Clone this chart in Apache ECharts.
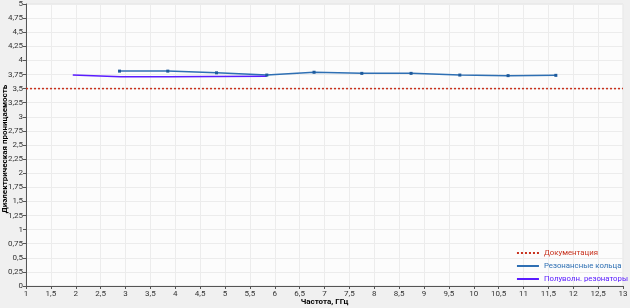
<!DOCTYPE html>
<html><head><meta charset="utf-8">
<script src="https://cdn.jsdelivr.net/npm/echarts@6/dist/echarts.min.js"></script>
<style>html,body{margin:0;padding:0;background:#f0f0f0}#c{width:630px;height:308px}</style>
</head><body><div id="c"></div>
<script>
const docX = [1, 13];
const docY = [3.5, 3.5];
const ringsX = [2.88, 3.85, 4.83, 5.84, 6.79, 7.75, 8.74, 9.72, 10.69, 11.65];
const ringsY = [3.81, 3.81, 3.78, 3.74, 3.79, 3.77, 3.77, 3.74, 3.73, 3.735];
const halfX = [1.94, 2.9, 3.85, 4.83, 5.84];
const halfY = [3.74, 3.71, 3.71, 3.715, 3.72];
const seriesNames = ['Документация', 'Резонансные кольца', 'Полуволн. резонаторы'];
const colors = ['#c8321e', '#2e6fb3', '#5a1cff'];

const fmt = v => String(v).replace('.', ',');
const zip = (a, b) => a.map((x, i) => [x, b[i]]);
const chart = echarts.init(document.getElementById('c'));
const font = 'Roboto';
const dotted = 'path://M0,0h2v2h-2z M4,0h2v2h-2z M8,0h2v2h-2z M12,0h2v2h-2z M16,0h2v2h-2z M20,0h2v2h-2z';
const solid = 'path://M0,0h22v2h-22z';
chart.setOption({
  backgroundColor: '#f0f0f0',
  animation: false,
  textStyle: {fontFamily: font},
  grid: {left: 26, right: 7, top: 4, bottom: 22, outerBoundsMode: 'none', containLabel: false,
         show: true, backgroundColor: '#fcfcfc', borderColor: '#e4e4e4', borderWidth: 1},
  xAxis: {
    type: 'value', min: 1, max: 13, interval: 0.5,
    name: 'Частота, ГГц', nameLocation: 'middle', nameGap: 12, nameMoveOverlap: false,
    nameTextStyle: {fontSize: 8, fontWeight: 'bold', color: '#000', fontFamily: font},
    axisLine: {show: true, lineStyle: {color: '#555'}},
    axisTick: {show: true, length: 3, lineStyle: {color: '#555'}},
    axisLabel: {fontSize: 8, color: '#333', margin: 4, formatter: fmt},
    splitLine: {show: true, lineStyle: {color: '#ececec'}}
  },
  yAxis: {
    type: 'value', min: 0, max: 5, interval: 0.25,
    name: 'Диэлектрическая проницаемость', nameLocation: 'middle', nameGap: 17, nameMoveOverlap: false,
    nameTextStyle: {fontSize: 8, fontWeight: 'bold', color: '#000', fontFamily: font, padding: [0, 8, 0, 0]},
    axisLine: {show: true, lineStyle: {color: '#555'}},
    axisTick: {show: true, length: 3, lineStyle: {color: '#555'}},
    axisLabel: {fontSize: 8, color: '#333', margin: 3, formatter: fmt},
    splitLine: {show: true, lineStyle: {color: '#ececec'}}
  },
  legend: {
    orient: 'vertical', right: 2, bottom: 25, padding: 0, itemGap: 5, itemWidth: 22, itemHeight: 2,
    data: seriesNames.map((n, i) => ({name: n, icon: i === 0 ? dotted : solid,
      itemStyle: {color: colors[i]}, textStyle: {color: colors[i], fontSize: 7.8, fontFamily: font}}))
  },
  series: [
    {name: seriesNames[0], type: 'line', data: zip(docX, docY), symbol: 'none',
     lineStyle: {color: colors[0], width: 1.5, type: [2, 2]}, itemStyle: {color: colors[0]}},
    {name: seriesNames[1], type: 'line', data: zip(ringsX, ringsY), symbol: 'rect', symbolSize: 3,
     lineStyle: {color: colors[1], width: 1.5}, itemStyle: {color: '#1d5a9c'}},
    {name: seriesNames[2], type: 'line', data: zip(halfX, halfY), symbol: 'none',
     lineStyle: {color: colors[2], width: 1.5}, itemStyle: {color: colors[2]}}
  ]
});
</script></body></html>
